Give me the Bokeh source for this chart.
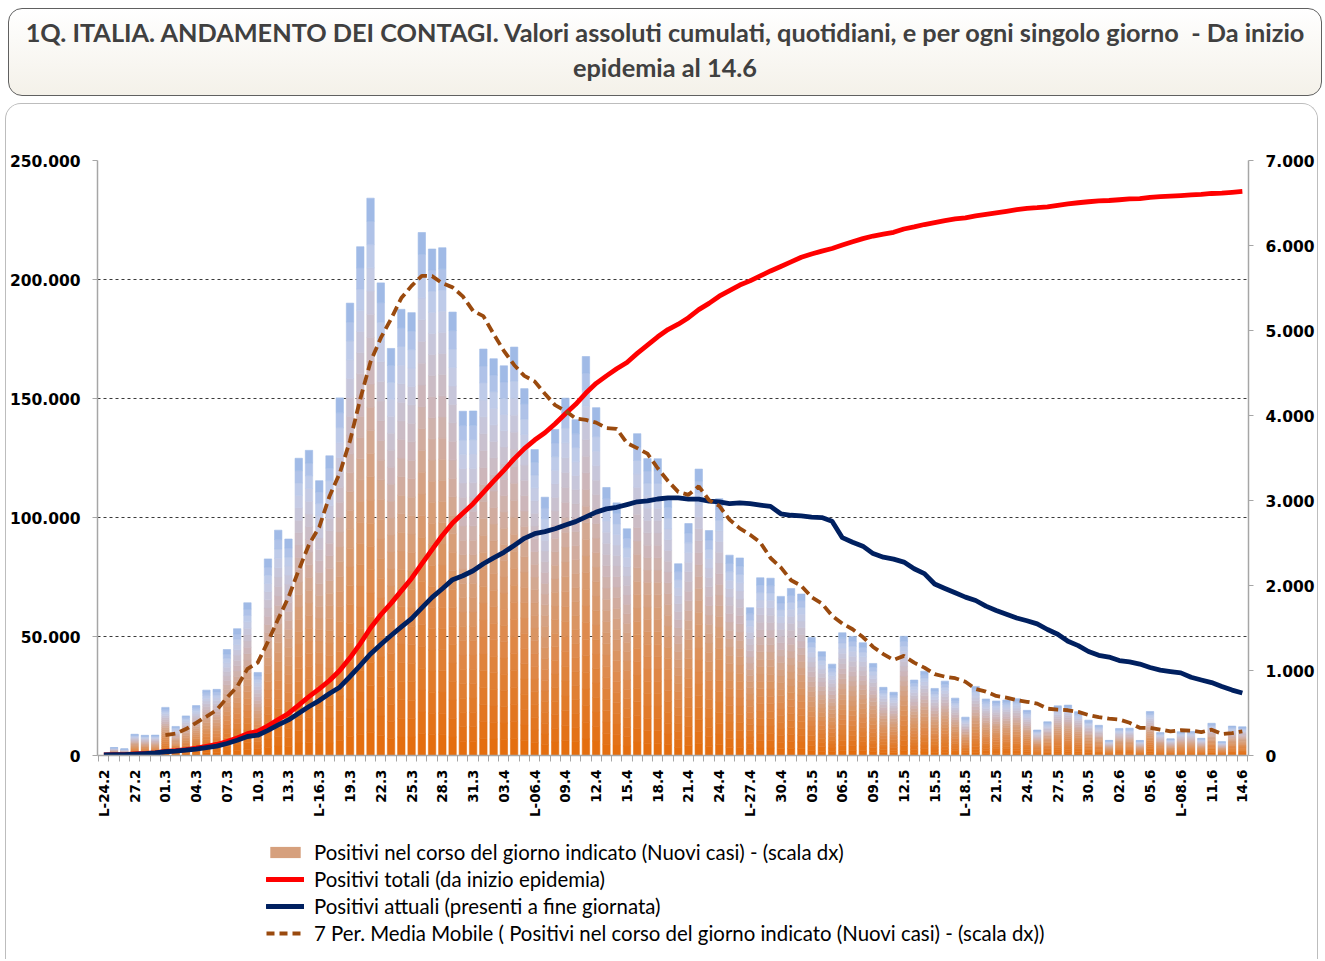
import math
from bokeh.plotting import figure
from bokeh.models import Range1d, LinearAxis, FixedTicker, Legend, LegendItem, Div
from bokeh.layouts import column
from bokeh.embed import file_html
from bokeh.resources import INLINE

# ---------------- data ----------------
title_line1 = "1Q. ITALIA. ANDAMENTO DEI CONTAGI. Valori assoluti cumulati, quotidiani, e per ogni singolo giorno &nbsp;- Da inizio"
title_line2 = "epidemia al 14.6"

tick_labels = ["L-24.2", "27.2", "01.3", "04.3", "07.3", "10.3", "13.3", "L-16.3", "19.3", "22.3",
               "25.3", "28.3", "31.3", "03.4", "L-06.4", "09.4", "12.4", "15.4", "18.4", "21.4",
               "24.4", "L-27.4", "30.4", "03.5", "06.5", "09.5", "12.5", "15.5", "L-18.5", "21.5",
               "24.5", "27.5", "30.5", "02.6", "05.6", "L-08.6", "11.6", "14.6"]

# daily new cases (right scale)
new_cases = [None, 93, 78, 250, 238, 240, 566, 342, 466, 587,
             769, 778, 1247, 1492, 1797, 977, 2313, 2651, 2547, 3497,
             3590, 3233, 3526, 4207, 5322, 5986, 6557, 5560, 4789, 5249,
             5210, 6153, 5959, 5974, 5217, 4050, 4053, 4782, 4668, 4585,
             4805, 4316, 3599, 3039, 3836, 4204, 3951, 4694, 4092, 3153,
             2972, 2667, 3786, 3493, 3491, 3047, 2256, 2729, 3370, 2646,
             3021, 2357, 2324, 1739, 2091, 2086, 1872, 1965, 1900, 1389,
             1221, 1075, 1444, 1401, 1327, 1083, 802, 744, 1402, 888,
             992, 789, 875, 675, 451, 813, 665, 642, 652, 669,
             531, 300, 397, 584, 593, 516, 416, 355, 178, 318,
             321, 177, 518, 270, 197, 280, 283, 202, 379, 163,
             346, 338]

# cumulative total positives (left scale)
total_cases = [229, 322, 400, 650, 888, 1128, 1694, 2036, 2502, 3089,
               3858, 4636, 5883, 7375, 9172, 10149, 12462, 15113, 17660, 21157,
               24747, 27980, 31506, 35713, 41035, 47021, 53578, 59138, 63927, 69176,
               74386, 80539, 86498, 92472, 97689, 101739, 105792, 110574, 115242, 119827,
               124632, 128948, 132547, 135586, 139422, 143626, 147577, 152271, 156363, 159516,
               162488, 165155, 168941, 172434, 175925, 178972, 181228, 183957, 187327, 189973,
               192994, 195351, 197675, 199414, 201505, 203591, 205463, 207428, 209328, 210717,
               211938, 213013, 214457, 215858, 217185, 218268, 219070, 219814, 221216, 222104,
               223096, 223885, 224760, 225435, 225886, 226699, 227364, 228006, 228658, 229327,
               229858, 230158, 230555, 231139, 231732, 232248, 232664, 233019, 233197, 233515,
               233836, 234013, 234531, 234801, 234998, 235278, 235561, 235763, 236142, 236305,
               236651, 236989]

# current positives (left scale)
current_pos = [221, 311, 385, 588, 821, 1049, 1577, 1835, 2263, 2706,
               3296, 3916, 5061, 6387, 7985, 8514, 10590, 12839, 14955, 17750,
               20603, 23073, 26062, 28710, 33190, 37860, 42681, 46638, 50418, 54030,
               57521, 62013, 66414, 70065, 73880, 75528, 77635, 80572, 83049, 85388,
               88274, 91246, 93187, 94067, 95262, 96877, 98273, 100269, 102253, 103616,
               104291, 105418, 106607, 106962, 107771, 108257, 108237, 107709, 107699, 106848,
               106527, 105847, 106103, 105813, 105205, 104657, 101551, 100943, 100704, 100179,
               99980, 98467, 91528, 89624, 87961, 84842, 83324, 82488, 81266, 78457,
               76440, 72070, 70187, 68351, 66553, 65129, 62752, 60960, 59322, 57752,
               56594, 55300, 52942, 50966, 47986, 46175, 43691, 42075, 41367, 39893,
               39297, 38429, 36976, 35877, 35262, 34730, 32872, 31710, 30637, 28997,
               27485, 26274]

# 7-period moving average of new cases (right scale)
ma7 = [None, None, None, None, None, None,
       240.9, 258.1, 311.4, 384.1, 458.3, 535.4, 679.3, 811.6, 1019.4, 1092.4,
       1339.0, 1607.9, 1860.6, 2182.0, 2481.7, 2686.9, 3051.0, 3321.6, 3703.1, 4194.4,
       4631.6, 4913.0, 5135.3, 5381.4, 5524.7, 5643.4, 5639.6, 5556.3, 5507.3, 5401.7,
       5230.9, 5169.7, 4957.6, 4761.3, 4594.3, 4465.6, 4401.1, 4256.3, 4121.1, 4054.9,
       3964.3, 3948.4, 3916.4, 3852.7, 3843.1, 3676.1, 3616.4, 3551.0, 3379.1, 3229.9,
       3101.7, 3067.0, 3167.4, 3004.6, 2937.1, 2775.1, 2671.9, 2598.0, 2506.9, 2323.4,
       2212.9, 2062.0, 1996.7, 1863.1, 1789.1, 1644.0, 1552.3, 1485.0, 1393.9, 1277.1,
       1193.3, 1125.1, 1171.9, 1092.4, 1034.0, 957.1, 927.4, 909.3, 867.4, 783.3,
       751.4, 701.4, 681.9, 652.4, 631.9, 610.3, 550.9, 539.3, 532.3, 512.9,
       476.7, 451.6, 434.1, 422.9, 385.3, 325.9, 326.1, 305.3, 282.7, 297.3,
       292.3, 275.3, 304.1, 253.4, 264.3, 284.4]

left_ticks = [0, 50000, 100000, 150000, 200000, 250000]
left_labels = ["0", "50.000", "100.000", "150.000", "200.000", "250.000"]
right_ticks = [0, 1000, 2000, 3000, 4000, 5000, 6000, 7000]
right_labels = ["0", "1.000", "2.000", "3.000", "4.000", "5.000", "6.000", "7.000"]

legend_labels = ["Positivi nel corso del giorno indicato (Nuovi casi) - (scala dx)",
                 "Positivi totali (da inizio epidemia)",
                 "Positivi attuali (presenti a fine giornata)",
                 "7 Per. Media Mobile ( Positivi nel corso del giorno indicato (Nuovi casi) - (scala dx))"]

# ---------------- styles ----------------
AX_COL = "#A6A6A6"
FONT = "DejaVu Sans"
BOX_BORDER = "1px solid #BDBDBD"
RED, NAVY, BROWN = "#FF0000", "#002060", "#9A4A0E"
stops = [(0.0, (228, 108, 10)), (0.3, (222, 138, 76)), (0.5, (214, 160, 125)),
         (0.7, (204, 184, 190)), (0.88, (196, 206, 234)), (1.0, (152, 182, 229))]


def grad(f):
    for (f0, c0), (f1, c1) in zip(stops[:-1], stops[1:]):
        if f0 <= f <= f1:
            t = (f - f0) / (f1 - f0)
            c = tuple(int(round(a + (b - a) * t)) for a, b in zip(c0, c1))
            return "#%02x%02x%02x" % c
    return "#%02x%02x%02x" % stops[-1][1]


# ---------------- main chart ----------------
NAN = float("nan")
n = len(new_cases)
xs = list(range(n))
bars = [NAN if v is None else v for v in new_cases]
ma_vals = [NAN if v is None else v for v in ma7]

p = figure(width=1313, height=721, x_range=Range1d(-0.62, 111.6), y_range=Range1d(0, 250000),
           output_backend="svg", toolbar_location=None, margin=(0, 0, 0, 5),
           min_border_left=90, min_border_right=71, min_border_top=56, min_border_bottom=70)
p.extra_y_ranges = {"dx": Range1d(0, 7000)}
p.outline_line_color = None
p.styles = {"border-top": BOX_BORDER, "border-left": BOX_BORDER, "border-right": BOX_BORDER,
            "border-radius": "16px 16px 0 0", "overflow": "hidden"}

ya = p.yaxis[0]
ya.ticker = FixedTicker(ticks=left_ticks)
ya.major_label_overrides = {t: s for t, s in zip(left_ticks, left_labels)}
yr = LinearAxis(y_range_name="dx", ticker=FixedTicker(ticks=right_ticks))
yr.major_label_overrides = {t: s for t, s in zip(right_ticks, right_labels)}
p.add_layout(yr, "right")
for ax, standoff in ((ya, 12), (yr, 12)):
    ax.axis_line_color = AX_COL
    ax.axis_line_width = 1.5
    ax.major_tick_line_color = AX_COL
    ax.major_tick_out = 5
    ax.major_tick_in = 0
    ax.minor_tick_line_color = None
    ax.major_label_standoff = standoff
    ax.major_label_text_font = FONT
    ax.major_label_text_font_style = "bold"
    ax.major_label_text_font_size = "15.5px"
    ax.major_label_text_color = "#000000"

xa = p.xaxis[0]
major_x = list(range(0, n, 3))
xa.ticker = FixedTicker(ticks=major_x, minor_ticks=[i - 0.5 for i in range(n + 1)])
xa.major_label_overrides = {t: s for t, s in zip(major_x, tick_labels)}
xa.major_label_orientation = math.pi / 2
xa.axis_line_color = AX_COL
xa.axis_line_width = 1.5
xa.major_tick_line_color = None
xa.major_tick_out = 0
xa.major_tick_in = 0
xa.minor_tick_line_color = AX_COL
xa.minor_tick_out = 6
xa.minor_tick_in = 0
xa.major_label_standoff = 8
xa.major_label_text_font = FONT
xa.major_label_text_font_style = "bold"
xa.major_label_text_font_size = "13.5px"
xa.major_label_text_color = "#000000"

p.xgrid.visible = False
p.ygrid.ticker = FixedTicker(ticks=left_ticks[1:])
p.ygrid.grid_line_color = "#3A3A3A"
p.ygrid.grid_line_dash = "3 3"
p.ygrid.grid_line_width = 1

# bars with a vertical gradient (orange bottom -> light blue top)
NSEG = 24
for k in range(NSEG):
    f0, f1 = k / NSEG, (k + 1) / NSEG
    col = grad((k + 0.5) / NSEG)
    p.vbar(x=xs, bottom=[v * f0 for v in bars], top=[v * f1 for v in bars], width=0.72,
           fill_color=col, line_color=col, line_width=0.6, y_range_name="dx")

p.line(xs, total_cases, line_color=RED, line_width=4.8, line_join="round")
p.line(xs, current_pos, line_color=NAVY, line_width=4.8, line_join="round")
p.line(xs, ma_vals, line_color=BROWN, line_width=3.8, line_dash="10 5", y_range_name="dx")

# ---------------- legend panel ----------------
p2 = figure(width=1313, height=135, x_range=Range1d(0, 1), y_range=Range1d(0, 1),
            output_backend="svg", toolbar_location=None, margin=(0, 0, 0, 5),
            x_axis_type=None, y_axis_type=None, min_border=0)
p2.grid.visible = False
p2.outline_line_color = None
p2.styles = {"border-left": BOX_BORDER, "border-right": BOX_BORDER}

# legend proxies (no visible marks: NaN values)
lg_bar = p2.vbar(x=[NAN], top=[NAN], width=0.1, fill_color=grad(0.5), line_color=None)
lg_tot = p2.line(x=[NAN, NAN], y=[NAN, NAN], line_color=RED, line_width=4.8, line_cap="round")
lg_cur = p2.line(x=[NAN, NAN], y=[NAN, NAN], line_color=NAVY, line_width=4.8, line_cap="round")
lg_ma = p2.line(x=[NAN, NAN], y=[NAN, NAN], line_color=BROWN, line_width=3.8, line_dash="8 5")

legend = Legend(items=[LegendItem(label=legend_labels[0], renderers=[lg_bar]),
                       LegendItem(label=legend_labels[1], renderers=[lg_tot]),
                       LegendItem(label=legend_labels[2], renderers=[lg_cur]),
                       LegendItem(label=legend_labels[3], renderers=[lg_ma])],
                location=(169, 14), orientation="vertical",
                border_line_color=None, background_fill_alpha=0,
                label_text_font="Lato", label_text_font_size="20.4px", label_text_color="#000000",
                glyph_width=38, glyph_height=14, label_height=24, spacing=3,
                padding=5, margin=0, label_standoff=10)
p2.add_layout(legend, "center")

# ---------------- title ----------------
title_html = (
    '<div style="box-sizing:border-box;width:1314px;height:88px;border:1.5px solid #606060;'
    'border-radius:14px;background:linear-gradient(180deg,#FFFFFF 0%,#F4F1E9 100%);'
    'display:flex;align-items:center;justify-content:center;padding-bottom:5px;">'
    '<div style="text-align:center;font-family:Lato, sans-serif;font-weight:bold;font-size:25.3px;'
    'line-height:35px;color:#404040;white-space:nowrap;">' + title_line1 + '<br>' + title_line2 + '</div></div>')
title_div = Div(text=title_html, width=1314, height=88, margin=(8, 0, 7, 8))

page = column(title_div, p, p2, spacing=0)

open("out.html", "w").write(file_html(page, INLINE))
